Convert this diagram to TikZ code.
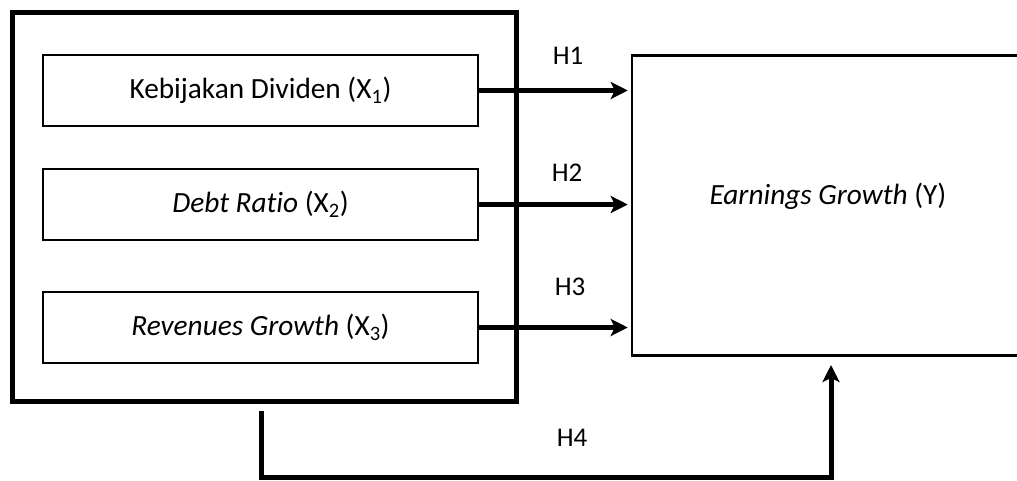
\documentclass[tikz,border=0pt]{standalone}
\usepackage{fontspec}
\setmainfont[Ligatures={NoCommon}]{Carlito}
\usetikzlibrary{arrows.meta}
\begin{document}
\begin{tikzpicture}[x=1pt,y=-1pt,
  font=\fontsize{27}{32}\selectfont,
  bigtext/.style={font=\fontsize{29.3}{34}\selectfont},
  varbox/.style={draw,line width=2pt,minimum width=435pt,minimum height=71pt,inner sep=0pt,bigtext},
  grpbox/.style={draw,line width=5pt,minimum width=503.5pt,minimum height=389pt,inner sep=0pt},
  ybox/.style={draw,line width=2.5pt,minimum width=390pt,minimum height=300pt,inner sep=0pt},
  arr/.style={line width=5pt,-{Stealth[length=17pt,width=17pt,inset=4pt]}},
  hlab/.style={inner sep=0pt}]
\useasboundingbox (0,0) rectangle (1017,480);
\node[grpbox] (grp) at (264.25,207) {};
\node[varbox] (x1) at (260.5,90.5) {Kebijakan Dividen (X\textsubscript{1})};
\node[varbox] (x2) at (260.5,204.5) {\textit{Debt Ratio} (X\textsubscript{2})};
\node[varbox] (x3) at (260.5,327.5) {\textit{Revenues Growth} (X\textsubscript{3})};
\node[ybox] (Y) at (827,205.5) {};
\node[inner sep=0pt,bigtext] (ylab) at (828,196) {\textit{Earnings Growth} (Y)};
\draw[arr,shorten >=3pt] (x1.east) -- (x1.east -| Y.west);
\draw[arr,shorten >=3pt] (x2.east) -- (x2.east -| Y.west);
\draw[arr,shorten >=3pt] (x3.east) -- (x3.east -| Y.west);
\node[hlab] (h1) at (568,55.5) {H1};
\node[hlab] (h2) at (567,173) {H2};
\node[hlab] (h3) at (570,287) {H3};
\node[hlab] (h4) at (572,438) {H4};
\coordinate (h4s) at (261,411);
\coordinate (h4e) at (831,355);
\draw[arr,shorten >=10pt] (h4s) -- (261,477) -| (h4e);
\end{tikzpicture}
\end{document}
